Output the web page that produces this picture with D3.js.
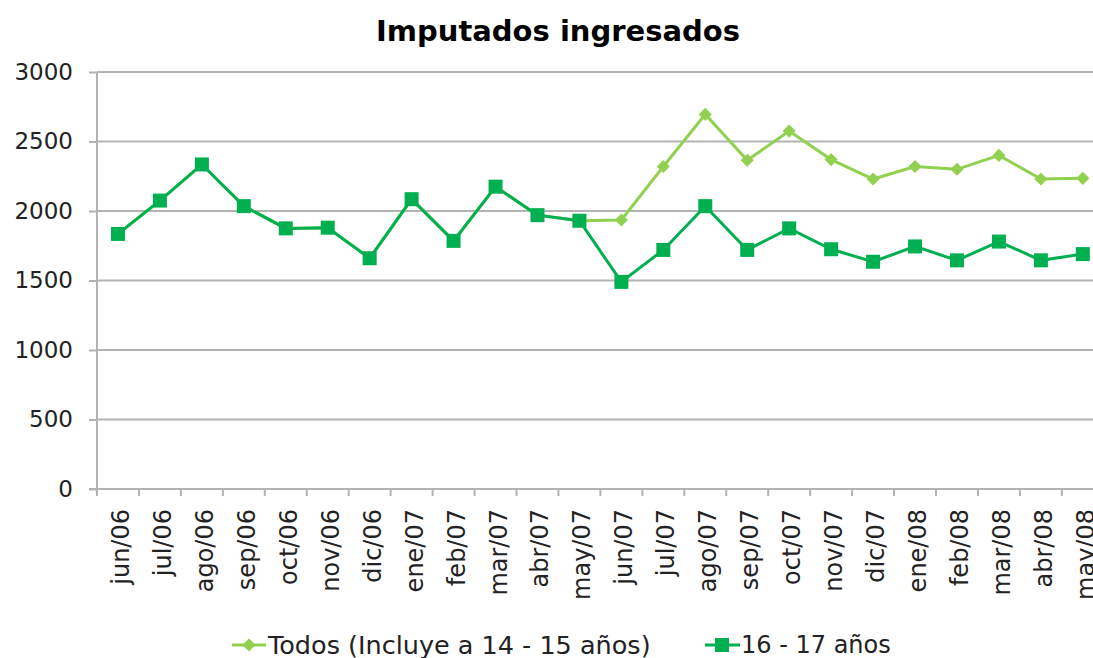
<!DOCTYPE html>
<html><head><meta charset="utf-8">
<script src="https://cdn.jsdelivr.net/npm/d3@7"></script>
<style>body{margin:0;background:#fff;}svg{display:block;}</style>
</head><body>
<script>
const categories = ["jun/06","jul/06","ago/06","sep/06","oct/06","nov/06","dic/06","ene/07","feb/07","mar/07","abr/07","may/07","jun/07","jul/07","ago/07","sep/07","oct/07","nov/07","dic/07","ene/08","feb/08","mar/08","abr/08","may/08"];
const todos = [1835,2075,2335,2035,1875,1880,1660,2085,1785,2175,1970,1930,1935,2320,2695,2365,2575,2370,2230,2320,2300,2400,2230,2235];
const jovenes = [1835,2075,2335,2035,1875,1880,1660,2085,1785,2175,1970,1930,1490,1720,2035,1720,1875,1725,1635,1745,1645,1780,1645,1690];
const yTicks = [0,500,1000,1500,2000,2500,3000];
const seriesNames = ["Todos (Incluye a 14 - 15 años)","16 - 17 años"];
const titleText = "Imputados ingresados";

(function(){
const W=1093,H=658;
const pl=97, pr=97+24*41.95, pt=72, pb=489;
const svg=d3.select("body").append("svg").attr("width",W).attr("height",H);
const font="DejaVu Sans, Verdana, sans-serif";

const x=d3.scaleBand().domain(categories).range([pl,pr]);
const y=d3.scaleLinear().domain([0,3000]).range([pb,pt]);

svg.append("g").selectAll("line").data(yTicks.filter(d=>d>0)).join("line")
 .attr("x1",pl).attr("x2",W).attr("y1",d=>y(d)).attr("y2",d=>y(d))
 .attr("stroke","#b3b3b3").attr("stroke-width",2);

const ya=svg.append("g").attr("transform",`translate(${pl},0)`)
 .call(d3.axisLeft(y).tickValues(yTicks).tickFormat(d3.format("d")).tickSize(8).tickPadding(16));
ya.select(".domain").attr("stroke","#b3b3b3").attr("stroke-width",2).attr("d",`M0,${pt}V${pb+6}`);
ya.selectAll(".tick line").attr("stroke","#b3b3b3").attr("stroke-width",2);
ya.selectAll(".tick text").attr("font-family",font).attr("font-size",23).attr("fill","#222");

const xa=svg.append("g").attr("transform",`translate(0,${pb})`)
 .call(d3.axisBottom(x).tickSize(0).tickFormat(""));
xa.select(".domain").attr("stroke","#b3b3b3").attr("stroke-width",2).attr("d",`M${pl-8},0H${W}`);
xa.selectAll(".tick").remove();
const bounds=categories.map((c)=>x(c)).concat([pr]);
svg.append("g").selectAll("line").data(bounds).join("line")
 .attr("x1",d=>d).attr("x2",d=>d).attr("y1",pb).attr("y2",pb+7)
 .attr("stroke","#b3b3b3").attr("stroke-width",2);
svg.append("g").selectAll("text").data(categories).join("text")
 .attr("transform",d=>`translate(${x(d)+x.bandwidth()/2+3},${pb+20}) rotate(-90)`)
 .attr("text-anchor","end").attr("dominant-baseline","central")
 .attr("font-family",font).attr("font-size",24).attr("fill","#222").text(d=>d);

const cx=d=>x(d)+x.bandwidth()/2;
const line=vals=>d3.line().x((v,i)=>cx(categories[i])).y(v=>y(v))(vals);
svg.append("path").attr("d",line(todos)).attr("fill","none").attr("stroke","#92d050").attr("stroke-width",3);
const diamond=d3.symbol().type(d3.symbolDiamond2).size(110);
svg.append("g").selectAll("path").data(todos).join("path")
 .attr("transform",(v,i)=>`translate(${cx(categories[i])},${y(v)})`).attr("d",diamond()).attr("fill","#92d050");
svg.append("path").attr("d",line(jovenes)).attr("fill","none").attr("stroke","#00b050").attr("stroke-width",3);
svg.append("g").selectAll("rect").data(jovenes).join("rect")
 .attr("x",(v,i)=>cx(categories[i])-7).attr("y",v=>y(v)-7).attr("width",14).attr("height",14).attr("fill","#00b050");

svg.append("text").attr("x",558).attr("y",41).attr("text-anchor","middle")
 .attr("font-family",font).attr("font-weight","bold").attr("font-size",29).attr("fill","#000").text(titleText);

const ly=645;
const lg=svg.append("g");
lg.append("line").attr("x1",232).attr("x2",266).attr("y1",ly).attr("y2",ly).attr("stroke","#92d050").attr("stroke-width",3);
lg.append("path").attr("transform",`translate(249,${ly})`).attr("d",diamond()).attr("fill","#92d050");
lg.append("text").attr("x",268).attr("y",ly).attr("dominant-baseline","central").attr("font-family",font).attr("font-size",25.5).attr("fill","#222").text(seriesNames[0]);
lg.append("line").attr("x1",705).attr("x2",740).attr("y1",ly).attr("y2",ly).attr("stroke","#00b050").attr("stroke-width",3);
lg.append("rect").attr("x",715).attr("y",ly-7).attr("width",14).attr("height",14).attr("fill","#00b050");
lg.append("text").attr("x",741).attr("y",ly).attr("dominant-baseline","central").attr("font-family",font).attr("font-size",24).attr("fill","#222").text(seriesNames[1]);
})();
</script>
</body></html>
